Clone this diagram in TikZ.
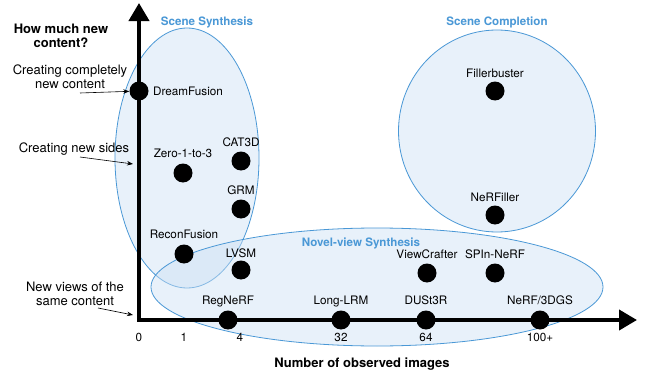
\documentclass[tikz,border=0pt]{standalone}
\usepackage{fontspec}
\setmainfont{TeX Gyre Heros}
\usetikzlibrary{arrows.meta}
\definecolor{regionblue}{RGB}{74,152,214}
\definecolor{regionfill}{RGB}{205,225,245}
\begin{document}
\begin{tikzpicture}[x=1pt,y=-1pt,
  dot/.style={circle,fill=black,minimum size=19pt,inner sep=0pt},
  lab/.style={anchor=base,inner sep=0pt,font=\fontsize{11.7}{14}\selectfont},
  side/.style={align=center,inner sep=0pt,font=\fontsize{13}{13.5}\selectfont},
  title/.style={inner sep=0pt,font=\fontsize{13}{14}\selectfont\bfseries},
  region/.style={draw=regionblue,line width=0.8pt,fill=regionfill,fill opacity=0.45},
  regionlab/.style={anchor=base,inner sep=0pt,text=regionblue,font=\fontsize{11.6}{14}\selectfont\bfseries},
  axisline/.style={line width=4pt,line join=miter,{Triangle[length=18pt,width=20pt]}-{Triangle[length=18pt,width=20pt]}},
  pointer/.style={-{Stealth[length=6pt,width=4.5pt]},line width=0.6pt}
]
\fill[white] (0,0) rectangle (649,372);
\useasboundingbox (0,0) rectangle (649,372);

% regions
\draw[region] (187,158) ellipse [x radius=72, y radius=130];
\draw[region] (497,131) ellipse [x radius=98.5, y radius=101];
\draw[region] (377,287) ellipse [x radius=226, y radius=59];
\node[regionlab] (rs) at (207,25.2) {Scene Synthesis};
\node[regionlab] (rc) at (497,26) {Scene Completion};
\node[regionlab] (rn) at (361,246) {Novel-view Synthesis};

% axes
\draw[axisline] (139,3) -- (139,320) -- (637,320);

% dots
\node[dot] (df) at (139,91) {};
\node[dot] (z13) at (183,173) {};
\node[dot] (cat) at (241,161) {};
\node[dot] (grm) at (241,209) {};
\node[dot] (rf) at (184,254) {};
\node[dot] (lvsm) at (241,270) {};
\node[dot] (reg) at (228,320) {};
\node[dot] (llrm) at (341,320) {};
\node[dot] (dust) at (426,320) {};
\node[dot] (nerf) at (540,320) {};
\node[dot] (vc) at (427,273) {};
\node[dot] (spin) at (495,273) {};
\node[dot] (fb) at (495,91) {};
\node[dot] (nf) at (495,215) {};

% dot labels
\node[lab,anchor=base west] (ldf) at (153,95.2) {DreamFusion};
\node[lab] (lz13) at (183,157) {Zero-1-to-3};
\node[lab] (lcat) at (241,146) {CAT3D};
\node[lab] (lgrm) at (241,194) {GRM};
\node[lab] (lrf) at (184,238) {ReconFusion};
\node[lab] (llvsm) at (241,257) {LVSM};
\node[lab] (lreg) at (228,304) {RegNeRF};
\node[lab] (lllrm) at (341,304) {Long-LRM};
\node[lab] (ldust) at (426,304) {DUSt3R};
\node[lab] (lnerf) at (540,304) {NeRF/3DGS};
\node[lab] (lvc) at (427,258.5) {ViewCrafter};
\node[lab] (lspin) at (495,258.5) {SPIn-NeRF};
\node[lab] (lfb) at (495,77) {Fillerbuster};
\node[lab] (lnf) at (495,201) {NeRFiller};

% ticks
\node[lab] (t0) at (139,341) {0};
\node[lab] (t1) at (184,341) {1};
\node[lab] (t4) at (240,341) {4};
\node[lab] (t32) at (341,341) {32};
\node[lab] (t64) at (426,341) {64};
\node[lab] (t100) at (540,341) {100+};

% titles
\node[title,anchor=base] (xt) at (362,367) {Number of observed images};
\node[title,align=center] (yt) at (61,36) {How much new\\content?};

% side labels
\node[side] (s1) at (70,76.5) {Creating completely\\new content};
\node[side,anchor=base] (s2) at (74,152.7) {Creating new sides};
\node[side] (s3) at (75,294) {New views of the\\same content};

\coordinate (p1) at (80,93);
\coordinate (p2a) at (80,157);
\coordinate (p2b) at (133,164);
\coordinate (p3a) at (98,308);
\coordinate (p3b) at (133,315);
\draw[pointer] (p1) -- (df);
\draw[pointer] (p2a) -- (p2b);
\draw[pointer] (p3a) -- (p3b);
\end{tikzpicture}
\end{document}
